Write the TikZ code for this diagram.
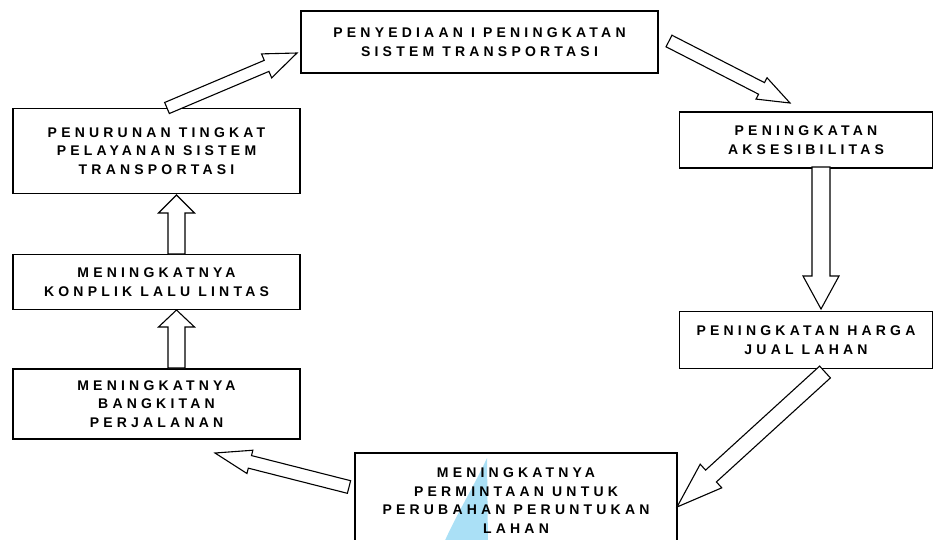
\documentclass[tikz,border=0pt]{standalone}
\usepackage{fontspec}
\setmainfont{Liberation Sans}
\newfontfamily\boxfont[LetterSpace=30]{Liberation Sans}
\usetikzlibrary{calc}
\definecolor{wmblue}{RGB}{170,224,246}
\tikzset{
  box/.style={draw, line width=1.6pt, align=center, inner sep=0pt,
    font=\boxfont\bfseries\fontsize{14}{18.5}\selectfont},
  barrow/.style={draw, line width=1.1pt, fill=white, line join=miter},
}
% block arrow: from, to, shaft half width, head half width, head length
\newcommand\blockarrow[5]{%
  \path ($(#2)!#5!(#1)$) coordinate (ba-c);
  \draw[barrow] ($(#1)!#3!90:(#2)$) -- ($(ba-c)!#3!90:(#2)$) -- ($(ba-c)!#4!90:(#2)$)
    -- (#2) -- ($(ba-c)!#4!-90:(#2)$) -- ($(ba-c)!#3!-90:(#2)$) -- ($(#1)!#3!-90:(#2)$) -- cycle;}
\begin{document}
\begin{tikzpicture}[x=1pt,y=-1pt]
\useasboundingbox (0,0) rectangle (936,539);
% watermark
\fill[wmblue] (487,458) .. controls (472,490) and (456,515) .. (443,545) -- (488,545) -- cycle;
% boxes
\node[box, minimum width=357pt, minimum height=62pt] (top) at (479.5,42)
  {PENYEDIAAN I PENINGKATAN\\SISTEM TRANSPORTASI};
\node[box, minimum width=287pt, minimum height=85pt] (pen) at (156.5,151)
  {PENURUNAN TINGKAT\\PELAYANAN SISTEM\\TRANSPORTASI};
\node[box, minimum width=287pt, minimum height=55pt] (kon) at (156.5,282)
  {MENINGKATNYA\\KONPLIK LALU LINTAS};
\node[box, minimum width=287pt, minimum height=70pt] (ban) at (156.5,404)
  {MENINGKATNYA\\BANGKITAN\\PERJALANAN};
\node[box, minimum width=253pt, minimum height=56pt] (aks) at (806,140)
  {PENINGKATAN\\AKSESIBILITAS};
\node[box, minimum width=253pt, minimum height=57pt] (har) at (806,340)
  {PENINGKATAN HARGA\\JUAL LAHAN};
\node[box, minimum width=322pt, minimum height=95pt] (bot) at (516,500.5)
  {MENINGKATNYA\\PERMINTAAN UNTUK\\PERUBAHAN PERUNTUKAN\\LAHAN};
% arrow ends
\coordinate (a1s) at (167,108);  \coordinate (a1e) at (297,53);
\coordinate (a2s) at (669,41);   \coordinate (a2e) at (790,103);
\coordinate (a3s) at (821,167);  \coordinate (a3e) at (821,309);
\coordinate (a4s) at (825,372);  \coordinate (a4e) at (677,507);
\coordinate (a5s) at (349,487);  \coordinate (a5e) at (215,453);
\coordinate (a6s) at (176.5,368); \coordinate (a6e) at (176.5,310);
\coordinate (a7s) at (176.5,254); \coordinate (a7e) at (176.5,195);
% arrows
\blockarrow{a1s}{a1e}{6pt}{13pt}{33pt}
\blockarrow{a2s}{a2e}{6.5pt}{12pt}{32pt}
\blockarrow{a3s}{a3e}{9pt}{18pt}{33pt}
\blockarrow{a4s}{a4e}{8pt}{16pt}{46pt}
\blockarrow{a5s}{a5e}{6.5pt}{12pt}{36pt}
\blockarrow{a6s}{a6e}{8.5pt}{18pt}{17pt}
\blockarrow{a7s}{a7e}{8.5pt}{18pt}{18pt}
\end{tikzpicture}
\end{document}
